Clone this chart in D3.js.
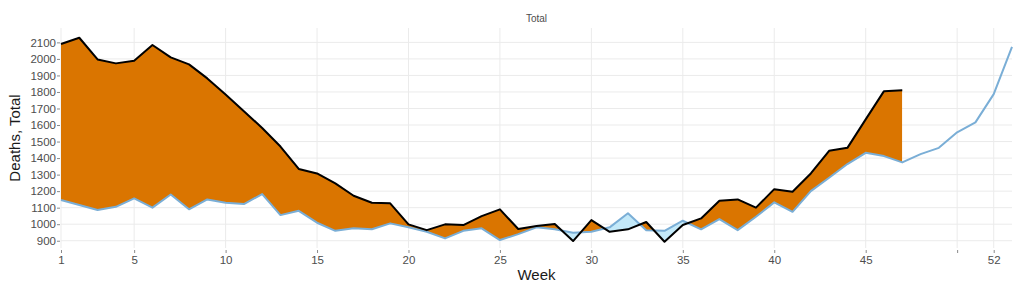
<!DOCTYPE html>
<html>
<head>
<meta charset="utf-8">
<script src="https://cdn.jsdelivr.net/npm/d3@7"></script>
<style>
  body { margin: 0; background: white; }
  svg { display: block; font-family: 'Liberation Sans', Arial, Helvetica, sans-serif; }
</style>
</head>
<body>
<div id="chart-area"></div>
<script>
// Weekly deaths: this year (black) vs baseline (blue)
const total = [2090, 2128, 1997, 1973, 1989, 2084, 2009, 1967, 1882, 1785,
    1684, 1582, 1470, 1334, 1307, 1247, 1172, 1130, 1126, 999,
    964, 999, 995, 1049, 1090, 971, 989, 1001, 898, 1025,
    954, 969, 1013, 894, 995, 1035, 1142, 1150, 1100, 1212,
    1196, 1307, 1444, 1462, 1634, 1805, 1811];
const baseline = [1146, 1116, 1086, 1105, 1156, 1100, 1180, 1090, 1150, 1130,
    1122, 1182, 1055, 1081, 1009, 960, 975, 969, 1005, 981,
    954, 914, 960, 975, 904, 940, 981, 969, 948, 954,
    981, 1066, 964, 960, 1021, 969, 1031, 964, 1045, 1132,
    1075, 1200, 1281, 1364, 1432, 1412, 1374, 1424, 1462, 1556,
    1616, 1787, 2073];
const xTicks = [1, 5, 10, 15, 20, 25, 30, 35, 40, 45, 50, 52];
const xTickLabels = ['1', '5', '10', '15', '20', '25', '30', '35', '40', '45', '', '52'];
const yTicks = [900, 1000, 1100, 1200, 1300, 1400, 1500, 1600, 1700, 1800, 1900, 2000, 2100];

const width = 1024;
const height = 288;
const margin = { left: 61, right: 12, top: 28, bottom: 40 };
const chartWidth = width - margin.left - margin.right;
const chartHeight = height - margin.top - margin.bottom;

const svg = d3.select('#chart-area')
    .append('svg')
    .attr('width', width)
    .attr('height', height);

const g = svg.append('g')
    .attr('transform', `translate(${margin.left}, ${margin.top})`);

// Scales
const x = d3.scaleLinear()
    .domain([1, 53])
    .range([0, chartWidth]);

const y = d3.scaleLinear()
    .domain([856, 2187])
    .range([chartHeight, 0]);

const gridColor = '#ebebeb';
const textColor = '#4d4d4d';

// Grid
g.append('g')
    .selectAll('line')
    .data(yTicks)
    .join('line')
    .attr('x1', 0)
    .attr('x2', chartWidth)
    .attr('y1', (d) => y(d))
    .attr('y2', (d) => y(d))
    .attr('stroke', gridColor)
    .attr('stroke-width', 1);

g.append('g')
    .selectAll('line')
    .data(xTicks)
    .join('line')
    .attr('x1', (d) => x(d))
    .attr('x2', (d) => x(d))
    .attr('y1', 0)
    .attr('y2', chartHeight)
    .attr('stroke', gridColor)
    .attr('stroke-width', 1);

// Axes
const xAxisCall = d3.axisBottom(x)
    .tickValues(xTicks)
    .tickFormat((d, i) => xTickLabels[i])
    .tickSize(3)
    .tickPadding(3);
const xAxisGroup = g.append('g')
    .attr('transform', `translate(0, ${chartHeight + 2})`)
    .call(xAxisCall);

const yAxisCall = d3.axisLeft(y)
    .tickValues(yTicks)
    .tickFormat(d3.format('d'))
    .tickSize(3)
    .tickPadding(1);
const yAxisGroup = g.append('g')
    .attr('transform', 'translate(-1, 0)')
    .call(yAxisCall);

[xAxisGroup, yAxisGroup].forEach((axis) => {
    axis.select('.domain').remove();
    axis.selectAll('.tick line').attr('stroke', '#8a8a8a');
    axis.selectAll('.tick text')
        .attr('fill', textColor)
        .attr('font-size', '11.5px')
        .attr('font-family', "'Liberation Sans', Arial, sans-serif");
});

// Difference areas
const rows = total.map((v, i) => ({ week: i + 1, total: v, base: baseline[i] }));

const band = d3.area()
    .x((d) => x(d.week))
    .y0((d) => y(d.base))
    .y1((d) => y(d.total));

const aboveBase = d3.area()
    .x((d) => x(d.week))
    .y0(0)
    .y1((d) => y(d.base));

const belowBase = d3.area()
    .x((d) => x(d.week))
    .y0((d) => y(d.base))
    .y1(chartHeight);

const defs = svg.append('defs');
defs.append('clipPath').attr('id', 'clip-above')
    .append('path').attr('d', aboveBase(rows));
defs.append('clipPath').attr('id', 'clip-below')
    .append('path').attr('d', belowBase(rows));

g.append('path')
    .attr('d', band(rows))
    .attr('clip-path', 'url(#clip-above)')
    .attr('fill', '#da7500');

g.append('path')
    .attr('d', band(rows))
    .attr('clip-path', 'url(#clip-below)')
    .attr('fill', '#c3e9f9');

// Lines
const line = d3.line()
    .x((d, i) => x(i + 1))
    .y((d) => y(d));

g.append('path')
    .attr('d', line(baseline))
    .attr('fill', 'none')
    .attr('stroke', '#7aaed6')
    .attr('stroke-width', 2)
    .attr('stroke-linejoin', 'round');

g.append('path')
    .attr('d', line(total))
    .attr('fill', 'none')
    .attr('stroke', '#000')
    .attr('stroke-width', 2)
    .attr('stroke-linejoin', 'round');

// Labels
svg.append('text')
    .attr('x', margin.left + chartWidth / 2)
    .attr('y', 22)
    .attr('text-anchor', 'middle')
    .attr('font-size', '10px')
    .attr('fill', textColor)
    .text('Total');

svg.append('text')
    .attr('x', margin.left + chartWidth / 2)
    .attr('y', 280)
    .attr('text-anchor', 'middle')
    .attr('font-size', '15px')
    .attr('fill', '#1a1a1a')
    .text('Week');

svg.append('text')
    .attr('transform', `translate(20, ${margin.top + chartHeight / 2}) rotate(-90)`)
    .attr('text-anchor', 'middle')
    .attr('font-size', '15px')
    .attr('fill', '#1a1a1a')
    .text('Deaths, Total');
</script>
</body>
</html>
